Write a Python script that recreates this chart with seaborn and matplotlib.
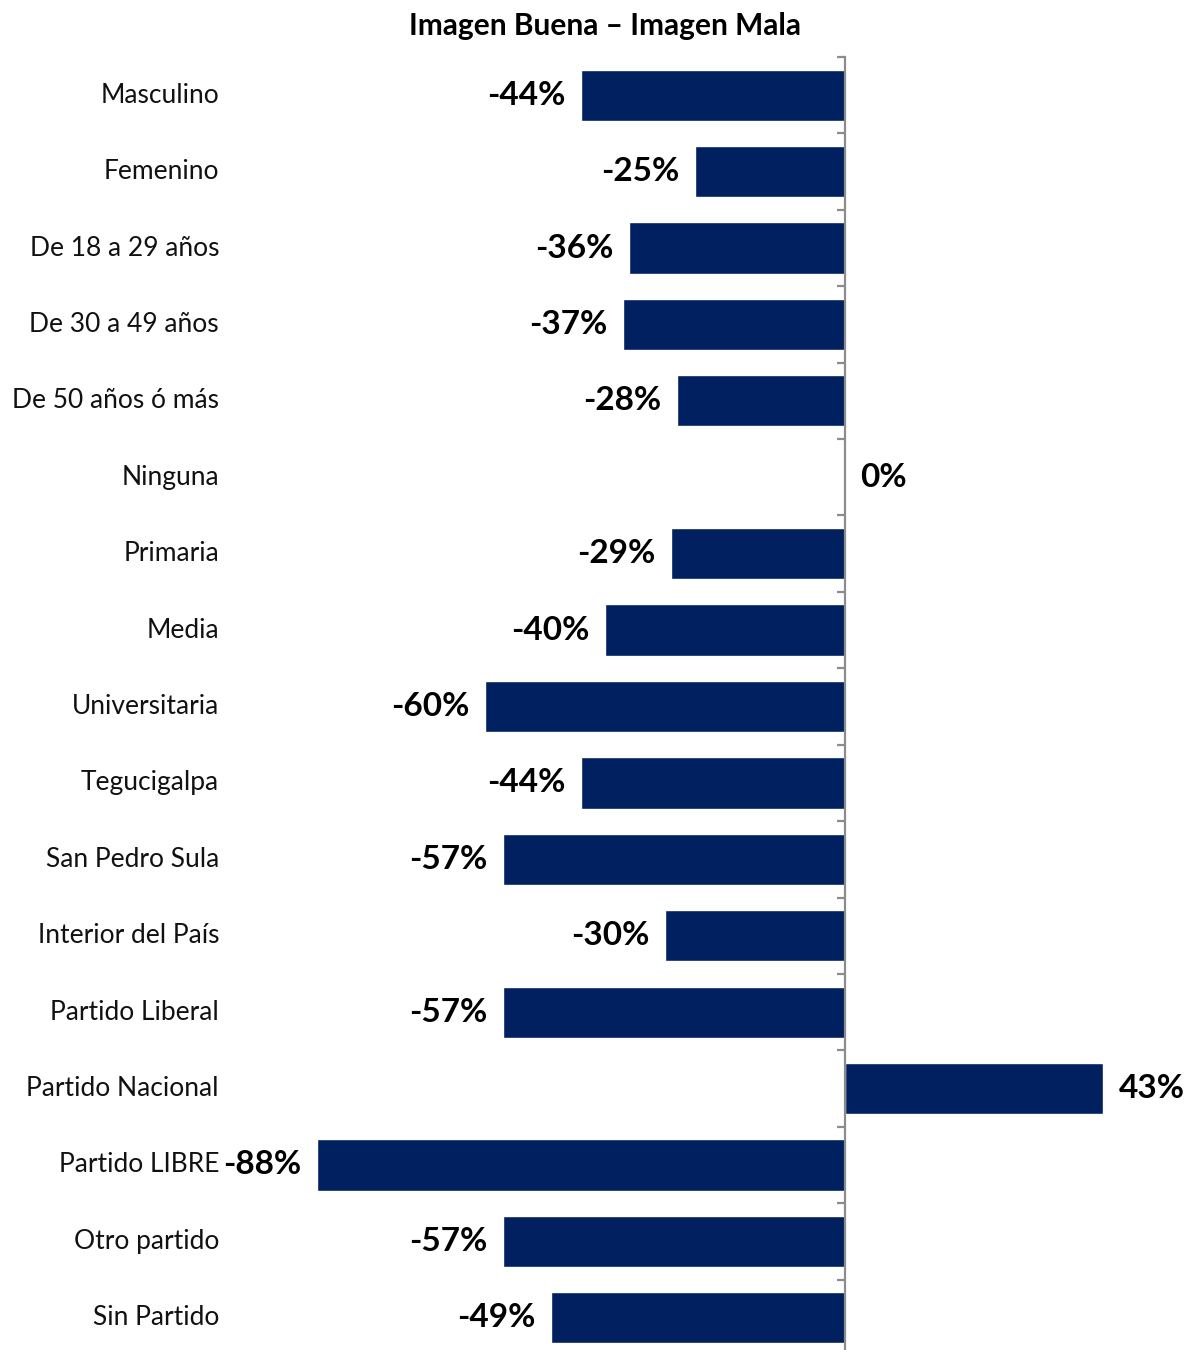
import matplotlib
matplotlib.use("Agg")
import matplotlib.pyplot as plt
import matplotlib.transforms as mtransforms
import seaborn as sns
import pandas as pd
import numpy as np

categorias = ["Masculino", "Femenino", "De 18 a 29 años", "De 30 a 49 años",
              "De 50 años ó más", "Ninguna", "Primaria", "Media", "Universitaria",
              "Tegucigalpa", "San Pedro Sula", "Interior del País", "Partido Liberal",
              "Partido Nacional", "Partido LIBRE", "Otro partido", "Sin Partido"]
valores = [-44, -25, -36, -37, -28, 0, -29, -40, -60, -44, -57, -30, -57, 43, -88, -57, -49]
titulo = "Imagen Buena – Imagen Mala"

df = pd.DataFrame({"categoria": categorias, "valor": valores})

sns.set_style("white")
plt.rcParams["font.family"] = ["Lato", "DejaVu Sans"]

W, H = 1186, 1350
fig = plt.figure(figsize=(W / 100, H / 100), dpi=100)
ax_left, ax_right = 225, 1186
ax_top, ax_bot = 57, 1356
ax = fig.add_axes([ax_left / W, 1 - ax_bot / H, (ax_right - ax_left) / W, (ax_bot - ax_top) / H])

sns.barplot(data=df, x="valor", y="categoria", orient="h", color="#002060",
            width=0.67, saturation=1, ax=ax)

px = 6.0  # pixels per percentage point
ax.set_xlim(-(845 - ax_left) / px, (ax_right - 845) / px)
ax.set_ylim(len(categorias) - 0.5, -0.5)

for s in ["top", "right", "bottom"]:
    ax.spines[s].set_visible(False)
ax.spines["left"].set_position(("data", 0))
ax.spines["left"].set_color("#8c8c8c")
ax.spines["left"].set_linewidth(1.6)
ax.set_xticks([])
ax.set_yticks(np.arange(-0.5, len(categorias), 1.0))
ax.set_yticklabels([])
ax.tick_params(axis="y", direction="out", length=6, width=1.6, color="#8c8c8c", left=True)
ax.set_xlabel("")
ax.set_ylabel("")

trans = mtransforms.blended_transform_factory(fig.transFigure, ax.transData)
for i, cat in enumerate(categorias):
    ax.text(219 / W, i, cat, transform=trans, ha="right", va="center",
            fontsize=19, color="#111111")

for i, v in enumerate(valores):
    if v < 0:
        ax.text(v - 2.6, i, f"{v}%", ha="right", va="center", fontsize=24,
                fontweight="bold", color="black")
    else:
        ax.text(v + 2.6, i, f"{v}%", ha="left", va="center", fontsize=24,
                fontweight="bold", color="black")

fig.text(605 / W, 1 - 26 / H, titulo, ha="center", va="center", fontsize=21.5,
         fontweight="bold", color="black")

fig.savefig("out.png", dpi=100)
